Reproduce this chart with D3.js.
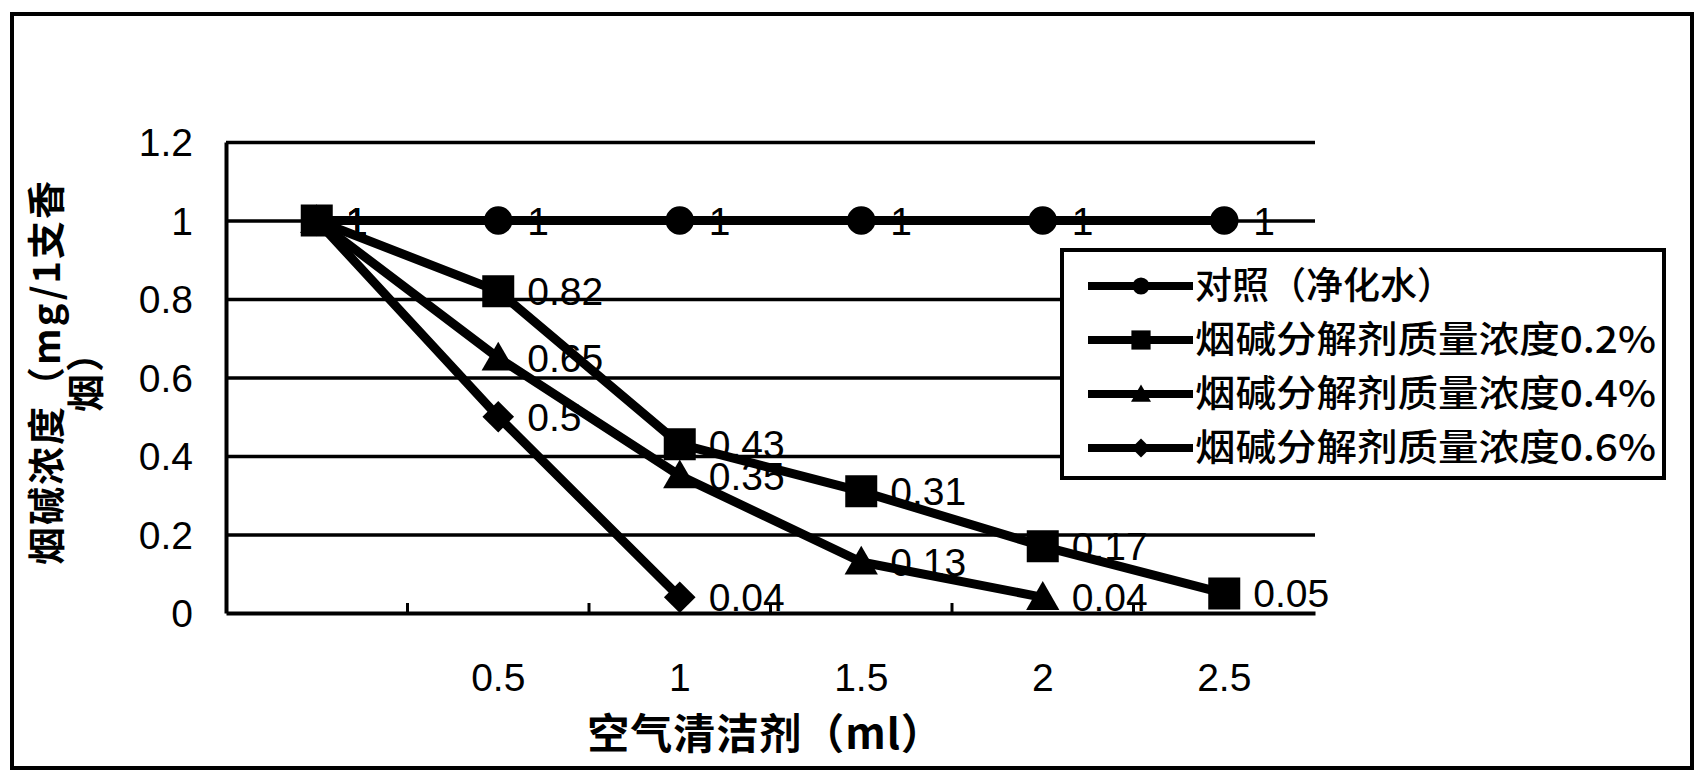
<!DOCTYPE html>
<html>
<head>
<meta charset="utf-8">
<script src="https://cdn.jsdelivr.net/npm/d3@7"></script>
<style>
  html, body { margin: 0; padding: 0; background: #fff; }
  svg { display: block; }
  .num { font-family: "Liberation Sans", Arial, sans-serif; font-size: 39px; fill: #000; }
  .cjk { font-family: "Noto Sans CJK SC", sans-serif; fill: #000; }
</style>
</head>
<body>
<svg id="chart" width="1708" height="784"></svg>
<script>
// data
var categories = ["", "0.5", "1", "1.5", "2", "2.5"];
var seriesNames = ["对照（净化水）", "烟碱分解剂质量浓度0.2%", "烟碱分解剂质量浓度0.4%", "烟碱分解剂质量浓度0.6%"];
var controlValues = [1, 1, 1, 1, 1, 1];
var conc02Values = [1, 0.82, 0.43, 0.31, 0.17, 0.05];
var conc04Values = [1, 0.65, 0.35, 0.13, 0.04];
var conc06Values = [1, 0.5, 0.04];
var yTicks = [0, 0.2, 0.4, 0.6, 0.8, 1, 1.2];
var xTitle = "空气清洁剂（ml）";
var yTitleLines = ["烟碱浓度（mg/1支香", "烟）"];

var allValues = [controlValues, conc02Values, conc04Values, conc06Values];
var shapes = ["circle", "square", "triangle", "diamond"];

var svg = d3.select("#chart");

// outer frame
svg.append("rect")
    .attr("x", 12).attr("y", 14)
    .attr("width", 1680).attr("height", 754)
    .attr("fill", "#fff")
    .attr("stroke", "#000")
    .attr("stroke-width", 4);

var plot = {left: 226, right: 1315, top: 142, bottom: 613};

var x = d3.scaleBand()
    .domain(d3.range(categories.length))
    .range([plot.left, plot.right])
    .padding(0);

var y = d3.scaleLinear()
    .domain([0, 1.2])
    .range([plot.bottom, plot.top]);

function cx(i) { return x(i) + x.bandwidth() / 2; }

// gridlines
var grid = svg.append("g")
    .attr("transform", "translate(" + plot.left + ",0)")
    .call(d3.axisLeft(y).tickValues(yTicks.slice(1)).tickSize(-(plot.right - plot.left)).tickFormat(""));
grid.select(".domain").remove();
grid.selectAll("line").attr("stroke", "#000").attr("stroke-width", 3.5);

// y axis labels
var yAxis = svg.append("g")
    .attr("class", "num")
    .attr("transform", "translate(" + plot.left + ",0)")
    .call(d3.axisLeft(y).tickValues(yTicks).tickSize(0).tickPadding(33).tickFormat(d3.format("")));
yAxis.select(".domain").attr("stroke", "#000").attr("stroke-width", 4);
yAxis.selectAll("text").attr("class", "num").attr("dy", "0.35em")
    .style("font-size", "39px").style("font-family", "Liberation Sans, Arial, sans-serif");

// x axis
var xAxis = svg.append("g")
    .attr("transform", "translate(0," + plot.bottom + ")")
    .call(d3.axisBottom(x).tickSize(0).tickPadding(50).tickFormat(function(i) { return categories[i]; }));
xAxis.select(".domain").attr("stroke", "#000").attr("stroke-width", 4);
xAxis.selectAll("text").attr("class", "num")
    .style("font-size", "39px").style("font-family", "Liberation Sans, Arial, sans-serif");

// small ticks between categories, pointing up
svg.append("g").selectAll("line")
    .data(d3.range(1, categories.length))
    .enter().append("line")
    .attr("x1", function(i) { return x(i); })
    .attr("x2", function(i) { return x(i); })
    .attr("y1", plot.bottom)
    .attr("y2", plot.bottom - 10)
    .attr("stroke", "#000")
    .attr("stroke-width", 3);

// marker paths
function markerPath(shape, big) {
  var k = big ? 1 : 0.6;
  if (shape == "circle") return d3.symbol().type(d3.symbolCircle).size(640 * k * k)();
  if (shape == "square") return d3.symbol().type(d3.symbolSquare).size(1024 * k * k)();
  if (shape == "triangle") return d3.symbol().type(d3.symbolTriangle).size(480 * k * k)();
  return d3.symbol().type(d3.symbolSquare).size(500 * k * k)();
}
function markerRot(shape, big) {
  if (shape == "diamond") return " rotate(45)";
  if (shape == "triangle") return " translate(0," + (big ? 3 : 2) + ")";
  return "";
}

var line = d3.line()
    .x(function(d, i) { return cx(i); })
    .y(function(d) { return y(d); });

// series lines first
allValues.forEach(function(vals) {
  svg.append("path")
      .attr("d", line(vals))
      .attr("fill", "none")
      .attr("stroke", "#000")
      .attr("stroke-width", 9)
      .attr("stroke-linejoin", "round");
});

// markers, squares last so they sit on top at the shared start point
[3, 2, 0, 1].forEach(function(s) {
  svg.append("g").selectAll("path")
      .data(allValues[s])
      .enter().append("path")
      .attr("d", markerPath(shapes[s], true))
      .attr("transform", function(d, i) { return "translate(" + cx(i) + "," + y(d) + ")" + markerRot(shapes[s], true); })
      .attr("fill", "#000");
});

// data labels on top
allValues.forEach(function(vals) {
  svg.append("g").selectAll("text")
      .data(vals)
      .enter().append("text")
      .attr("class", "num")
      .attr("x", function(d, i) { return cx(i) + 29; })
      .attr("y", function(d) { return y(d) + 14; })
      .text(function(d) { return d3.format("")(d); });
});

// axis titles
svg.append("text")
    .attr("class", "cjk")
    .attr("x", (plot.left + plot.right) / 2 - 5)
    .attr("y", 749)
    .attr("text-anchor", "middle")
    .style("font-size", "42px")
    .style("font-weight", "bold")
    .style("letter-spacing", "1px")
    .text(xTitle);

var yt = svg.append("text")
    .attr("class", "cjk")
    .attr("transform", "translate(46,372) rotate(-90)")
    .attr("text-anchor", "middle")
    .style("font-size", "38px")
    .style("font-weight", "bold")
    .style("letter-spacing", "2px");
yt.selectAll("tspan")
    .data(yTitleLines)
    .enter().append("tspan")
    .attr("x", 0)
    .attr("dy", function(d, i) { return i == 0 ? "0.36em" : "1.03em"; })
    .text(function(d) { return d; });

// legend
var legend = svg.append("g");
legend.append("rect")
    .attr("x", 1062).attr("y", 250)
    .attr("width", 602).attr("height", 228)
    .attr("fill", "#fff")
    .attr("stroke", "#000")
    .attr("stroke-width", 4);

var legendY = d3.scalePoint().domain(d3.range(seriesNames.length)).range([286, 448]);
var legendWidths = [259, 461, 461, 461];

var item = legend.selectAll("g.item")
    .data(seriesNames)
    .enter().append("g")
    .attr("class", "item")
    .attr("transform", function(d, i) { return "translate(0," + legendY(i) + ")"; });

item.append("line")
    .attr("x1", 1088).attr("x2", 1193)
    .attr("y1", 0).attr("y2", 0)
    .attr("stroke", "#000")
    .attr("stroke-width", 8);
item.append("path")
    .attr("d", function(d, i) { return markerPath(shapes[i], false); })
    .attr("transform", function(d, i) { return "translate(1141,0)" + markerRot(shapes[i], false); })
    .attr("fill", "#000");
item.append("text")
    .attr("class", "cjk")
    .attr("x", 1195)
    .attr("y", 13)
    .attr("textLength", function(d, i) { return legendWidths[i]; })
    .attr("lengthAdjust", "spacingAndGlyphs")
    .style("font-size", "37px")
    .style("font-weight", "500")
    .text(function(d) { return d; });
</script>
</body>
</html>
